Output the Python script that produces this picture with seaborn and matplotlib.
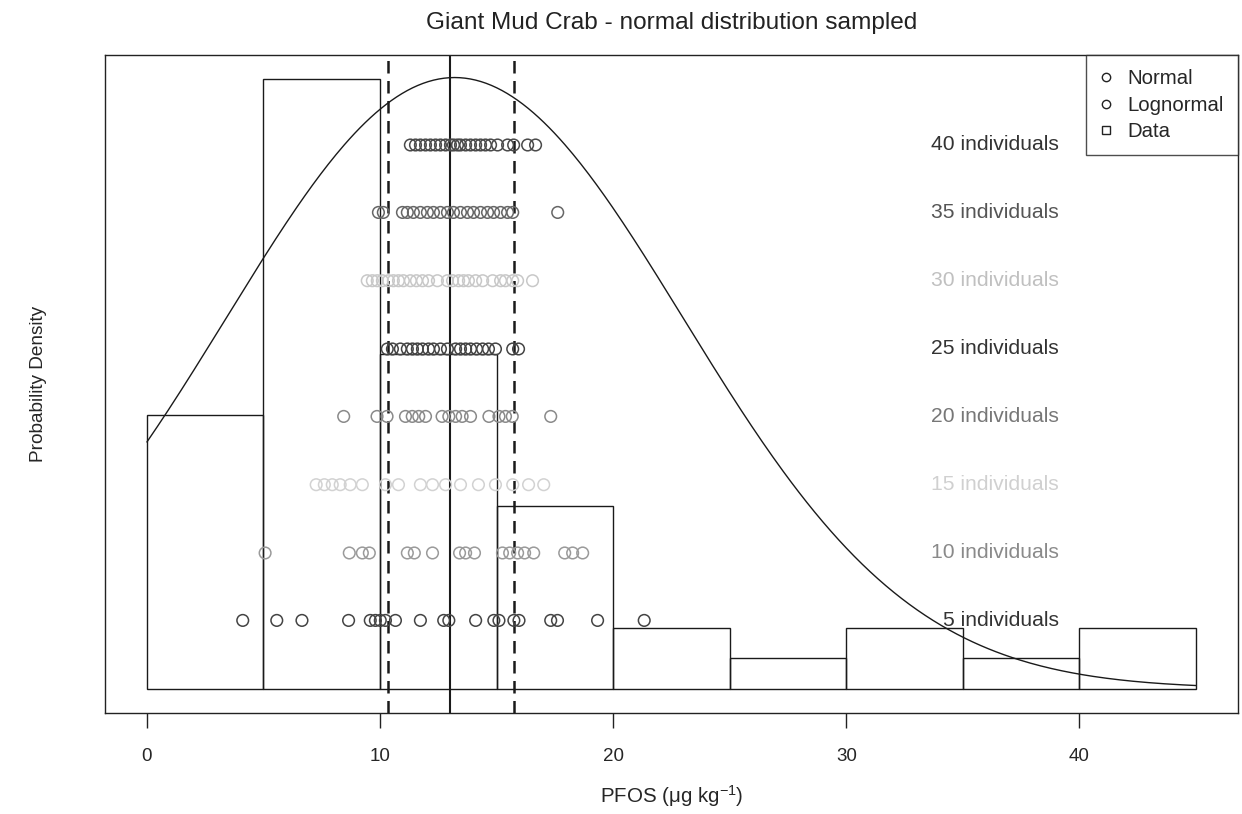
import numpy as np
import pandas as pd
import matplotlib
matplotlib.use("Agg")
import matplotlib.pyplot as plt
from matplotlib.lines import Line2D
import seaborn as sns

# ── data ─────────────────────────────────────────────────────────────────────
bin_edges = [0, 5, 10, 15, 20, 25, 30, 35, 40, 45]
bin_counts = [9, 20, 11, 6, 2, 1, 2, 1, 2]

# fitted normal curve drawn over the histogram
curve_mean = 13.2
curve_sd = 9.8
curve_peak = 0.0743

mean_line = 13.0
ci_lines = [10.36, 15.73]

sample_sizes = [5, 10, 15, 20, 25, 30, 35, 40]
row_height = [0.0083, 0.0165, 0.0248, 0.0331, 0.0413, 0.0496, 0.0579, 0.0661]

row_5 = [4.11, 5.57, 6.65, 8.65, 9.58, 9.80, 10.01, 10.23, 10.66, 11.73, 12.73,
         12.95, 14.10, 14.88, 15.10, 15.74, 15.96, 17.32, 17.61, 19.33, 21.33]
row_10 = [5.07, 8.68, 9.24, 9.54, 11.17, 11.47, 12.25, 13.41, 13.67, 14.05,
          15.25, 15.56, 15.90, 16.20, 16.59, 17.92, 18.26, 18.69]
row_15 = [7.26, 7.61, 7.95, 8.29, 8.72, 9.24, 10.23, 10.79, 11.73, 12.25, 12.81,
          13.45, 14.22, 14.95, 15.69, 16.37, 17.02]
row_20 = [8.44, 9.87, 10.30, 11.09, 11.38, 11.66, 11.95, 12.66, 12.95, 13.24,
          13.52, 13.88, 14.67, 15.10, 15.38, 15.67, 17.32]
row_25 = [10.31, 10.53, 10.87, 11.17, 11.39, 11.60, 11.82, 12.08, 12.29, 12.59,
          12.89, 13.24, 13.45, 13.67, 13.88, 14.14, 14.40, 14.65, 14.95, 15.69, 15.94]
row_30 = [9.45, 9.67, 9.88, 10.10, 10.36, 10.57, 10.79, 11.00, 11.30, 11.56, 11.82,
          12.08, 12.46, 12.89, 13.11, 13.37, 13.58, 13.79, 14.10, 14.40, 14.83,
          15.17, 15.38, 15.69, 15.90, 16.54]
row_35 = [9.93, 10.14, 10.96, 11.17, 11.43, 11.73, 12.03, 12.29, 12.59, 12.89,
          13.15, 13.45, 13.75, 14.01, 14.31, 14.61, 14.87, 15.17, 15.47, 15.69, 17.62]
row_40 = [11.30, 11.52, 11.73, 11.95, 12.16, 12.38, 12.59, 12.81, 13.02, 13.15,
          13.32, 13.45, 13.67, 13.88, 14.10, 14.31, 14.52, 14.74, 15.04, 15.47,
          15.73, 16.33, 16.67]
rows = [row_5, row_10, row_15, row_20, row_25, row_30, row_35, row_40]

# the scan fades some rows; keep its grey levels
point_grey = ["#444444", "#9a9a9a", "#d2d2d2", "#8a8a8a", "#444444", "#c8c8c8", "#666666", "#4a4a4a"]
text_grey = ["#333333", "#8a8a8a", "#d0d0d0", "#777777", "#333333", "#c0c0c0", "#555555", "#333333"]

sns.set_theme(style="white")
plt.rcParams["font.family"] = ["Liberation Sans", "DejaVu Sans"]
plt.rcParams["mathtext.fontset"] = "custom"
plt.rcParams["mathtext.rm"] = "Liberation Sans"
plt.rcParams["mathtext.it"] = "Liberation Sans:italic"

fig, ax = plt.subplots(figsize=(12.42, 8.14), dpi=100)
plt.subplots_adjust(left=0.0845, right=0.9968, top=0.9324, bottom=0.124)

# ── histogram of the data (density scale) ────────────────────────────────────
centres = [(a + b) / 2 for a, b in zip(bin_edges[:-1], bin_edges[1:])]
hist_df = pd.DataFrame({"PFOS": centres, "n": bin_counts})
sns.histplot(data=hist_df, x="PFOS", weights="n", bins=bin_edges, stat="density",
             fill=False, color="#1a1a1a", linewidth=1.0, ax=ax)

# ── normal curve ─────────────────────────────────────────────────────────────
grid = np.linspace(bin_edges[0], bin_edges[-1], 400)
dens = curve_peak * np.exp(-0.5 * ((grid - curve_mean) / curve_sd) ** 2)
sns.lineplot(x=grid, y=dens, color="#1a1a1a", linewidth=1.0, ax=ax)

# ── mean and interval lines ─────────────────────────────────────────────────
ax.axvline(mean_line, color="#1a1a1a", linewidth=1.5)
for v in ci_lines:
    ax.axvline(v, color="#1a1a1a", linewidth=1.8, dashes=(5, 3))

# ── sampled means, one row per sample size ──────────────────────────────────
for vals, h, n, pc, tc in zip(rows, row_height, sample_sizes, point_grey, text_grey):
    row_df = pd.DataFrame({"x": vals, "y": [h] * len(vals)})
    sns.scatterplot(data=row_df, x="x", y="y", marker="o", s=70, facecolors="none",
                    edgecolor=pc, linewidth=1.1, ax=ax, zorder=3)
    ax.text(39.1, h, f"{n} individuals", ha="right", va="center",
            fontsize=15.2, color=tc)

ymax = max(bin_counts) / (sum(bin_counts) * 5)
ax.set_xlim(-1.8, 46.8)
ax.set_ylim(-0.04 * ymax, 1.04 * ymax)
ax.set_xticks([0, 10, 20, 30, 40])
ax.set_yticks([])
ax.tick_params(axis="x", direction="out", length=11, width=1, color="#222222",
               labelsize=13.5, pad=14, bottom=True)
for sp in ax.spines.values():
    sp.set_visible(True)
    sp.set_color("#222222")
    sp.set_linewidth(1.0)

ax.set_xlabel(r"PFOS ($\mathrm{\mu}$g kg$^{-1}$)", fontsize=14.8, labelpad=13)
ax.set_ylabel("Probability Density", fontsize=13.7, labelpad=42)
ax.set_title("Giant Mud Crab - normal distribution sampled", fontsize=17.6, pad=19,
             color="#222222")

handles = [
    Line2D([], [], linestyle="none", marker="o", markersize=6, markerfacecolor="none",
           markeredgecolor="#222222"),
    Line2D([], [], linestyle="none", marker="o", markersize=6, markerfacecolor="none",
           markeredgecolor="#222222"),
    Line2D([], [], linestyle="none", marker="s", markersize=6, markerfacecolor="none",
           markeredgecolor="#222222"),
]
leg = ax.legend(handles, ["Normal", "Lognormal", "Data"], loc="upper right",
                borderaxespad=0, fontsize=14.7, frameon=True, fancybox=False,
                handlelength=0.6, handletextpad=0.75, labelspacing=0.36,
                borderpad=0.7)
leg.get_frame().set_edgecolor("#222222")
leg.get_frame().set_linewidth(1.0)

fig.savefig("out.png", dpi=100)
